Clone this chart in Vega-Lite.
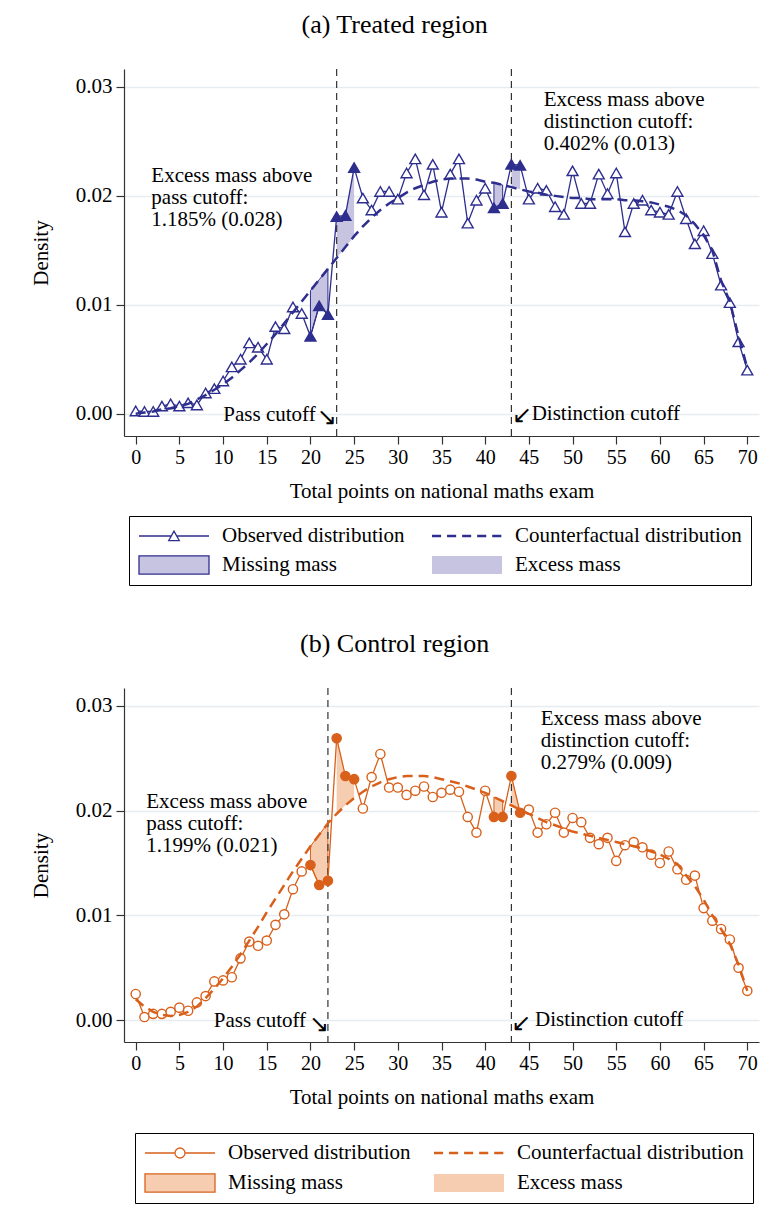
{
  "$schema": "https://vega.github.io/schema/vega-lite/v6.json",
  "padding": {"top": 12, "left": 30, "right": 8, "bottom": 8},
  "background": "white",
  "config": {
    "font": "Liberation Serif",
    "view": {"stroke": null},
    "title": {"font": "Liberation Serif", "fontSize": 26, "fontWeight": "normal", "color": "black", "anchor": "middle", "frame": "bounds", "baseline": "alphabetic", "offset": 30},
    "axis": {"labelFont": "Liberation Serif", "titleFont": "Liberation Serif", "labelColor": "black", "titleColor": "black", "titleFontWeight": "normal", "domainColor": "#333333", "tickColor": "#333333", "tickSize": 8, "domainWidth": 1.2, "tickWidth": 1.2, "gridColor": "#e7ecf0", "gridWidth": 1.3},
    "axisX": {"grid": false, "labelFontSize": 20, "titleFontSize": 21, "labelPadding": 3, "titlePadding": 13, "labelFlush": false},
    "axisY": {"grid": true, "labelFontSize": 21, "titleFontSize": 21, "labelPadding": 4, "titlePadding": 24}
  },
  "datasets": {
    "treated": [
      {"x": 0, "obs": 0.00025, "cf": 0.0000, "win": ""},
      {"x": 1, "obs": 0.0002, "cf": 0.0001, "win": ""},
      {"x": 2, "obs": 0.0002, "cf": 0.0002, "win": ""},
      {"x": 3, "obs": 0.0007, "cf": 0.0004, "win": ""},
      {"x": 4, "obs": 0.0009, "cf": 0.0005, "win": ""},
      {"x": 5, "obs": 0.0007, "cf": 0.0007, "win": ""},
      {"x": 6, "obs": 0.0010, "cf": 0.0009, "win": ""},
      {"x": 7, "obs": 0.0008, "cf": 0.0013, "win": ""},
      {"x": 8, "obs": 0.0019, "cf": 0.0017, "win": ""},
      {"x": 9, "obs": 0.0023, "cf": 0.0022, "win": ""},
      {"x": 10, "obs": 0.0030, "cf": 0.0027, "win": ""},
      {"x": 11, "obs": 0.0043, "cf": 0.0033, "win": ""},
      {"x": 12, "obs": 0.0050, "cf": 0.0040, "win": ""},
      {"x": 13, "obs": 0.0065, "cf": 0.0047, "win": ""},
      {"x": 14, "obs": 0.0061, "cf": 0.0055, "win": ""},
      {"x": 15, "obs": 0.0050, "cf": 0.0064, "win": ""},
      {"x": 16, "obs": 0.0080, "cf": 0.0073, "win": ""},
      {"x": 17, "obs": 0.0078, "cf": 0.0083, "win": ""},
      {"x": 18, "obs": 0.0098, "cf": 0.0093, "win": ""},
      {"x": 19, "obs": 0.0092, "cf": 0.0103, "win": ""},
      {"x": 20, "obs": 0.0071, "cf": 0.0113, "win": "pb"},
      {"x": 21, "obs": 0.0099, "cf": 0.0123, "win": "pb"},
      {"x": 22, "obs": 0.0091, "cf": 0.0133, "win": "pb"},
      {"x": 23, "obs": 0.0181, "cf": 0.0143, "win": "pa"},
      {"x": 24, "obs": 0.0182, "cf": 0.0153, "win": "pa"},
      {"x": 25, "obs": 0.0226, "cf": 0.0163, "win": "pa"},
      {"x": 26, "obs": 0.0198, "cf": 0.0172, "win": ""},
      {"x": 27, "obs": 0.0187, "cf": 0.0180, "win": ""},
      {"x": 28, "obs": 0.0204, "cf": 0.0187, "win": ""},
      {"x": 29, "obs": 0.0204, "cf": 0.0193, "win": ""},
      {"x": 30, "obs": 0.0197, "cf": 0.0198, "win": ""},
      {"x": 31, "obs": 0.0221, "cf": 0.0203, "win": ""},
      {"x": 32, "obs": 0.0234, "cf": 0.0207, "win": ""},
      {"x": 33, "obs": 0.0201, "cf": 0.0210, "win": ""},
      {"x": 34, "obs": 0.0229, "cf": 0.0213, "win": ""},
      {"x": 35, "obs": 0.0185, "cf": 0.0215, "win": ""},
      {"x": 36, "obs": 0.0220, "cf": 0.0216, "win": ""},
      {"x": 37, "obs": 0.0234, "cf": 0.0216, "win": ""},
      {"x": 38, "obs": 0.0175, "cf": 0.0216, "win": ""},
      {"x": 39, "obs": 0.0196, "cf": 0.0215, "win": ""},
      {"x": 40, "obs": 0.0207, "cf": 0.0213, "win": ""},
      {"x": 41, "obs": 0.0189, "cf": 0.0212, "win": "db"},
      {"x": 42, "obs": 0.0193, "cf": 0.0210, "win": "db"},
      {"x": 43, "obs": 0.0229, "cf": 0.0208, "win": "da"},
      {"x": 44, "obs": 0.0228, "cf": 0.0206, "win": "da"},
      {"x": 45, "obs": 0.0197, "cf": 0.0204, "win": ""},
      {"x": 46, "obs": 0.0207, "cf": 0.0203, "win": ""},
      {"x": 47, "obs": 0.0205, "cf": 0.0201, "win": ""},
      {"x": 48, "obs": 0.0190, "cf": 0.0200, "win": ""},
      {"x": 49, "obs": 0.0183, "cf": 0.0199, "win": ""},
      {"x": 50, "obs": 0.0223, "cf": 0.0198, "win": ""},
      {"x": 51, "obs": 0.0193, "cf": 0.0198, "win": ""},
      {"x": 52, "obs": 0.0193, "cf": 0.0197, "win": ""},
      {"x": 53, "obs": 0.0220, "cf": 0.0197, "win": ""},
      {"x": 54, "obs": 0.0202, "cf": 0.0197, "win": ""},
      {"x": 55, "obs": 0.0221, "cf": 0.0197, "win": ""},
      {"x": 56, "obs": 0.0167, "cf": 0.0196, "win": ""},
      {"x": 57, "obs": 0.0193, "cf": 0.0196, "win": ""},
      {"x": 58, "obs": 0.0196, "cf": 0.0195, "win": ""},
      {"x": 59, "obs": 0.0187, "cf": 0.0194, "win": ""},
      {"x": 60, "obs": 0.0185, "cf": 0.0192, "win": ""},
      {"x": 61, "obs": 0.0183, "cf": 0.0190, "win": ""},
      {"x": 62, "obs": 0.0204, "cf": 0.0187, "win": ""},
      {"x": 63, "obs": 0.0179, "cf": 0.0182, "win": ""},
      {"x": 64, "obs": 0.0156, "cf": 0.0174, "win": ""},
      {"x": 65, "obs": 0.0168, "cf": 0.0164, "win": ""},
      {"x": 66, "obs": 0.0147, "cf": 0.0150, "win": ""},
      {"x": 67, "obs": 0.0118, "cf": 0.0122, "win": ""},
      {"x": 68, "obs": 0.0102, "cf": 0.0103, "win": ""},
      {"x": 69, "obs": 0.0066, "cf": 0.0071, "win": ""},
      {"x": 70, "obs": 0.0040, "cf": 0.0042, "win": ""}
    ],
    "control": [
      {"x": 0, "obs": 0.0025, "cf": 0.0020, "win": ""},
      {"x": 1, "obs": 0.0003, "cf": 0.0013, "win": ""},
      {"x": 2, "obs": 0.0006, "cf": 0.0008, "win": ""},
      {"x": 3, "obs": 0.0006, "cf": 0.0005, "win": ""},
      {"x": 4, "obs": 0.0008, "cf": 0.0004, "win": ""},
      {"x": 5, "obs": 0.0012, "cf": 0.0005, "win": ""},
      {"x": 6, "obs": 0.0009, "cf": 0.0008, "win": ""},
      {"x": 7, "obs": 0.0017, "cf": 0.0013, "win": ""},
      {"x": 8, "obs": 0.0023, "cf": 0.0021, "win": ""},
      {"x": 9, "obs": 0.0037, "cf": 0.0030, "win": ""},
      {"x": 10, "obs": 0.0038, "cf": 0.0040, "win": ""},
      {"x": 11, "obs": 0.0041, "cf": 0.0051, "win": ""},
      {"x": 12, "obs": 0.0059, "cf": 0.0063, "win": ""},
      {"x": 13, "obs": 0.0075, "cf": 0.0076, "win": ""},
      {"x": 14, "obs": 0.0071, "cf": 0.0089, "win": ""},
      {"x": 15, "obs": 0.0076, "cf": 0.0103, "win": ""},
      {"x": 16, "obs": 0.0091, "cf": 0.0116, "win": ""},
      {"x": 17, "obs": 0.0101, "cf": 0.0129, "win": ""},
      {"x": 18, "obs": 0.0125, "cf": 0.0142, "win": ""},
      {"x": 19, "obs": 0.0142, "cf": 0.0154, "win": ""},
      {"x": 20, "obs": 0.0148, "cf": 0.0166, "win": "pb"},
      {"x": 21, "obs": 0.0129, "cf": 0.0177, "win": "pb"},
      {"x": 22, "obs": 0.0133, "cf": 0.0188, "win": "pb"},
      {"x": 23, "obs": 0.0269, "cf": 0.0197, "win": "pa"},
      {"x": 24, "obs": 0.0233, "cf": 0.0205, "win": "pa"},
      {"x": 25, "obs": 0.0230, "cf": 0.0212, "win": "pa"},
      {"x": 26, "obs": 0.0202, "cf": 0.0218, "win": ""},
      {"x": 27, "obs": 0.0232, "cf": 0.0223, "win": ""},
      {"x": 28, "obs": 0.0254, "cf": 0.0227, "win": ""},
      {"x": 29, "obs": 0.0222, "cf": 0.0230, "win": ""},
      {"x": 30, "obs": 0.0222, "cf": 0.0232, "win": ""},
      {"x": 31, "obs": 0.0215, "cf": 0.0233, "win": ""},
      {"x": 32, "obs": 0.0219, "cf": 0.0233, "win": ""},
      {"x": 33, "obs": 0.0223, "cf": 0.0233, "win": ""},
      {"x": 34, "obs": 0.0213, "cf": 0.0232, "win": ""},
      {"x": 35, "obs": 0.0217, "cf": 0.0230, "win": ""},
      {"x": 36, "obs": 0.0220, "cf": 0.0228, "win": ""},
      {"x": 37, "obs": 0.0218, "cf": 0.0226, "win": ""},
      {"x": 38, "obs": 0.0194, "cf": 0.0223, "win": ""},
      {"x": 39, "obs": 0.0179, "cf": 0.0220, "win": ""},
      {"x": 40, "obs": 0.0219, "cf": 0.0217, "win": ""},
      {"x": 41, "obs": 0.0194, "cf": 0.0213, "win": "db"},
      {"x": 42, "obs": 0.0194, "cf": 0.0209, "win": "db"},
      {"x": 43, "obs": 0.0233, "cf": 0.0205, "win": "da"},
      {"x": 44, "obs": 0.0198, "cf": 0.0201, "win": "da"},
      {"x": 45, "obs": 0.0201, "cf": 0.0197, "win": ""},
      {"x": 46, "obs": 0.0179, "cf": 0.0193, "win": ""},
      {"x": 47, "obs": 0.0187, "cf": 0.0189, "win": ""},
      {"x": 48, "obs": 0.0198, "cf": 0.0186, "win": ""},
      {"x": 49, "obs": 0.0179, "cf": 0.0183, "win": ""},
      {"x": 50, "obs": 0.0193, "cf": 0.0180, "win": ""},
      {"x": 51, "obs": 0.0189, "cf": 0.0178, "win": ""},
      {"x": 52, "obs": 0.0174, "cf": 0.0176, "win": ""},
      {"x": 53, "obs": 0.0168, "cf": 0.0174, "win": ""},
      {"x": 54, "obs": 0.0174, "cf": 0.0172, "win": ""},
      {"x": 55, "obs": 0.0152, "cf": 0.0170, "win": ""},
      {"x": 56, "obs": 0.0167, "cf": 0.0168, "win": ""},
      {"x": 57, "obs": 0.0170, "cf": 0.0166, "win": ""},
      {"x": 58, "obs": 0.0165, "cf": 0.0164, "win": ""},
      {"x": 59, "obs": 0.0158, "cf": 0.0161, "win": ""},
      {"x": 60, "obs": 0.0150, "cf": 0.0158, "win": ""},
      {"x": 61, "obs": 0.0161, "cf": 0.0154, "win": ""},
      {"x": 62, "obs": 0.0144, "cf": 0.0149, "win": ""},
      {"x": 63, "obs": 0.0134, "cf": 0.0138, "win": ""},
      {"x": 64, "obs": 0.0138, "cf": 0.0128, "win": ""},
      {"x": 65, "obs": 0.0107, "cf": 0.0115, "win": ""},
      {"x": 66, "obs": 0.0095, "cf": 0.0100, "win": ""},
      {"x": 67, "obs": 0.0087, "cf": 0.0087, "win": ""},
      {"x": 68, "obs": 0.0077, "cf": 0.0073, "win": ""},
      {"x": 69, "obs": 0.0050, "cf": 0.0053, "win": ""},
      {"x": 70, "obs": 0.0028, "cf": 0.0028, "win": ""}
    ],
    "keys": [
      {"item": "Observed distribution"},
      {"item": "Counterfactual distribution"},
      {"item": "Missing mass"},
      {"item": "Excess mass"}
    ]
  },
  "resolve": {
    "scale": {"x": "independent", "y": "independent", "shape": "independent", "fill": "independent", "stroke": "independent"},
    "legend": {"shape": "independent", "fill": "independent", "stroke": "independent"}
  },
  "spacing": 45,
  "vconcat": [
    {
      "title": "(a) Treated region",
      "width": 635,
      "height": 367,
      "data": {"name": "treated"},
      "layer": [
        {
          "transform": [{"filter": "datum.win == 'pb' || datum.win == 'db'"}],
          "mark": {"type": "area", "fill": "#c6c4e1", "stroke": "#2e2e8e", "strokeWidth": 1, "opacity": 1},
          "encoding": {
            "x": {"field": "x", "type": "quantitative", "scale": {"domain": [-1.34, 71.34], "nice": false, "zero": false}, "title": "Total points on national maths exam", "axis": {"values": [0, 5, 10, 15, 20, 25, 30, 35, 40, 45, 50, 55, 60, 65, 70]}},
            "y": {"field": "obs", "type": "quantitative", "scale": {"domain": [-0.00205, 0.03165], "nice": false, "zero": false}, "title": "Density", "axis": {"values": [0, 0.01, 0.02, 0.03], "format": ".2f"}},
            "y2": {"field": "cf"},
            "detail": {"field": "win"}
          }
        },
        {
          "transform": [{"filter": "datum.win == 'pa' || datum.win == 'da'"}],
          "mark": {"type": "area", "fill": "#c6c4e1", "opacity": 1},
          "encoding": {
            "x": {"field": "x", "type": "quantitative", "scale": {"domain": [-1.34, 71.34], "nice": false, "zero": false}, "title": "Total points on national maths exam"},
            "y": {"field": "obs", "type": "quantitative", "scale": {"domain": [-0.00205, 0.03165], "nice": false, "zero": false}, "title": "Density"},
            "y2": {"field": "cf"},
            "detail": {"field": "win"}
          }
        },
        {
          "data": {"values": [{"cutoff": 23}, {"cutoff": 43}]},
          "mark": {"type": "rule", "color": "#333333", "strokeWidth": 1.2, "strokeDash": [7, 5]},
          "encoding": {
            "x": {"field": "cutoff", "type": "quantitative", "scale": {"domain": [-1.34, 71.34], "nice": false, "zero": false}, "title": "Total points on national maths exam"}
          }
        },
        {
          "mark": {"type": "line", "color": "#2e2e8e", "strokeWidth": 1.3},
          "encoding": {
            "x": {"field": "x", "type": "quantitative", "scale": {"domain": [-1.34, 71.34], "nice": false, "zero": false}, "title": "Total points on national maths exam"},
            "y": {"field": "obs", "type": "quantitative", "scale": {"domain": [-0.00205, 0.03165], "nice": false, "zero": false}, "title": "Density"}
          }
        },
        {
          "transform": [{"filter": "datum.win == ''"}],
          "mark": {"type": "point", "shape": "triangle-up", "filled": true, "fill": "white", "stroke": "#2e2e8e", "strokeWidth": 1.4, "size": 120, "opacity": 1},
          "encoding": {
            "x": {"field": "x", "type": "quantitative", "scale": {"domain": [-1.34, 71.34], "nice": false, "zero": false}, "title": "Total points on national maths exam"},
            "y": {"field": "obs", "type": "quantitative", "scale": {"domain": [-0.00205, 0.03165], "nice": false, "zero": false}, "title": "Density"}
          }
        },
        {
          "transform": [{"filter": "datum.win != ''"}],
          "mark": {"type": "point", "shape": "triangle-up", "filled": true, "fill": "#2e2e8e", "stroke": "#2e2e8e", "strokeWidth": 1.4, "size": 120, "opacity": 1},
          "encoding": {
            "x": {"field": "x", "type": "quantitative", "scale": {"domain": [-1.34, 71.34], "nice": false, "zero": false}, "title": "Total points on national maths exam"},
            "y": {"field": "obs", "type": "quantitative", "scale": {"domain": [-0.00205, 0.03165], "nice": false, "zero": false}, "title": "Density"}
          }
        },
        {
          "mark": {"type": "line", "color": "#2e2e8e", "strokeWidth": 2.5, "strokeDash": [10, 6]},
          "encoding": {
            "x": {"field": "x", "type": "quantitative", "scale": {"domain": [-1.34, 71.34], "nice": false, "zero": false}, "title": "Total points on national maths exam"},
            "y": {"field": "cf", "type": "quantitative", "scale": {"domain": [-0.00205, 0.03165], "nice": false, "zero": false}, "title": "Density"}
          }
        },
        {
          "data": {"values": [{}]},
          "mark": {"type": "text", "text": ["Excess mass above", "pass cutoff:", "1.185% (0.028)"], "align": "left", "baseline": "alphabetic", "fontSize": 21, "lineHeight": 22, "font": "Liberation Serif", "color": "black"},
          "encoding": {
            "x": {"datum": 1.79, "type": "quantitative", "scale": {"domain": [-1.34, 71.34], "nice": false, "zero": false}, "title": "Total points on national maths exam"},
            "y": {"datum": 0.0213, "type": "quantitative", "scale": {"domain": [-0.00205, 0.03165], "nice": false, "zero": false}, "title": "Density"}
          }
        },
        {
          "data": {"values": [{}]},
          "mark": {"type": "text", "text": ["Excess mass above", "distinction cutoff:", "0.402% (0.013)"], "align": "left", "baseline": "alphabetic", "fontSize": 21, "lineHeight": 22, "font": "Liberation Serif", "color": "black"},
          "encoding": {
            "x": {"datum": 46.7, "type": "quantitative", "scale": {"domain": [-1.34, 71.34], "nice": false, "zero": false}, "title": "Total points on national maths exam"},
            "y": {"datum": 0.02822, "type": "quantitative", "scale": {"domain": [-0.00205, 0.03165], "nice": false, "zero": false}, "title": "Density"}
          }
        },
        {
          "data": {"values": [{}]},
          "mark": {"type": "text", "text": "Pass cutoff", "align": "right", "baseline": "alphabetic", "fontSize": 21, "font": "Liberation Serif", "color": "black"},
          "encoding": {
            "x": {"datum": 20.6, "type": "quantitative", "scale": {"domain": [-1.34, 71.34], "nice": false, "zero": false}, "title": "Total points on national maths exam"},
            "y": {"datum": -0.00067, "type": "quantitative", "scale": {"domain": [-0.00205, 0.03165], "nice": false, "zero": false}, "title": "Density"}
          }
        },
        {
          "data": {"values": [{}]},
          "mark": {"type": "text", "text": "↘", "align": "center", "baseline": "middle", "fontSize": 24, "font": "DejaVu Sans", "color": "black"},
          "encoding": {
            "x": {"datum": 21.86, "type": "quantitative", "scale": {"domain": [-1.34, 71.34], "nice": false, "zero": false}, "title": "Total points on national maths exam"},
            "y": {"datum": -0.00044, "type": "quantitative", "scale": {"domain": [-0.00205, 0.03165], "nice": false, "zero": false}, "title": "Density"}
          }
        },
        {
          "data": {"values": [{}]},
          "mark": {"type": "text", "text": "Distinction cutoff", "align": "left", "baseline": "alphabetic", "fontSize": 21, "font": "Liberation Serif", "color": "black"},
          "encoding": {
            "x": {"datum": 45.32, "type": "quantitative", "scale": {"domain": [-1.34, 71.34], "nice": false, "zero": false}, "title": "Total points on national maths exam"},
            "y": {"datum": -0.00061, "type": "quantitative", "scale": {"domain": [-0.00205, 0.03165], "nice": false, "zero": false}, "title": "Density"}
          }
        },
        {
          "data": {"values": [{}]},
          "mark": {"type": "text", "text": "↙", "align": "center", "baseline": "middle", "fontSize": 24, "font": "DejaVu Sans", "color": "black"},
          "encoding": {
            "x": {"datum": 44.25, "type": "quantitative", "scale": {"domain": [-1.34, 71.34], "nice": false, "zero": false}, "title": "Total points on national maths exam"},
            "y": {"datum": -0.00018, "type": "quantitative", "scale": {"domain": [-0.00205, 0.03165], "nice": false, "zero": false}, "title": "Density"}
          }
        },
        {
          "data": {"name": "keys"},
          "mark": {"type": "point", "filled": true, "opacity": 0, "size": 4900},
          "encoding": {
            "shape": {"field": "item", "type": "nominal",
              "scale": {"domain": ["Observed distribution", "Counterfactual distribution", "Missing mass", "Excess mass"],
                "range": ["M-1,0H-0.073M0.073,0H1M-0.15,0.13L0,-0.14L0.15,0.13Z", "M-1,-0.036H-0.74V0.036H-1ZM-0.57,-0.036H-0.31V0.036H-0.57ZM-0.14,-0.036H0.12V0.036H-0.14ZM0.29,-0.036H0.55V0.036H0.29ZM0.72,-0.036H0.98V0.036H0.72Z", "M-1,-0.26H1V0.26H-1Z", "M-1,-0.26H1V0.26H-1Z"]},
              "legend": {"title": null, "orient": "none", "legendX": 5, "legendY": 447, "columns": 2, "direction": "horizontal", "symbolSize": 4900, "clipHeight": 22, "labelFont": "Liberation Serif", "labelFontSize": 21, "labelColor": "black", "labelOffset": 12, "columnPadding": 26, "rowPadding": 7, "padding": 9, "strokeColor": "black", "symbolStrokeWidth": 1.3, "labelLimit": 400, "symbolOpacity": 1}},
            "fill": {"field": "item", "type": "nominal",
              "scale": {"domain": ["Observed distribution", "Counterfactual distribution", "Missing mass", "Excess mass"], "range": ["white", "#2e2e8e", "#c6c4e1", "#c6c4e1"]},
              "legend": {"title": null, "orient": "none", "legendX": 5, "legendY": 447, "columns": 2, "direction": "horizontal", "symbolSize": 4900, "clipHeight": 22, "labelFont": "Liberation Serif", "labelFontSize": 21, "labelColor": "black", "labelOffset": 12, "columnPadding": 26, "rowPadding": 7, "padding": 9, "strokeColor": "black", "symbolStrokeWidth": 1.3, "labelLimit": 400, "symbolOpacity": 1}},
            "stroke": {"field": "item", "type": "nominal",
              "scale": {"domain": ["Observed distribution", "Counterfactual distribution", "Missing mass", "Excess mass"], "range": ["#2e2e8e", "transparent", "#2e2e8e", "transparent"]},
              "legend": {"title": null, "orient": "none", "legendX": 5, "legendY": 447, "columns": 2, "direction": "horizontal", "symbolSize": 4900, "clipHeight": 22, "labelFont": "Liberation Serif", "labelFontSize": 21, "labelColor": "black", "labelOffset": 12, "columnPadding": 26, "rowPadding": 7, "padding": 9, "strokeColor": "black", "symbolStrokeWidth": 1.3, "labelLimit": 400, "symbolOpacity": 1}}
          }
        }
      ]
    },
    {
      "title": "(b) Control region",
      "width": 635,
      "height": 354,
      "data": {"name": "control"},
      "layer": [
        {
          "transform": [{"filter": "datum.win == 'pb' || datum.win == 'db'"}],
          "mark": {"type": "area", "fill": "#f6cdb0", "stroke": "#d8601b", "strokeWidth": 1, "opacity": 1},
          "encoding": {
            "x": {"field": "x", "type": "quantitative", "scale": {"domain": [-1.34, 71.34], "nice": false, "zero": false}, "title": "Total points on national maths exam", "axis": {"values": [0, 5, 10, 15, 20, 25, 30, 35, 40, 45, 50, 55, 60, 65, 70]}},
            "y": {"field": "obs", "type": "quantitative", "scale": {"domain": [-0.00208, 0.0317], "nice": false, "zero": false}, "title": "Density", "axis": {"values": [0, 0.01, 0.02, 0.03], "format": ".2f"}},
            "y2": {"field": "cf"},
            "detail": {"field": "win"}
          }
        },
        {
          "transform": [{"filter": "datum.win == 'pa' || datum.win == 'da'"}],
          "mark": {"type": "area", "fill": "#f6cdb0", "opacity": 1},
          "encoding": {
            "x": {"field": "x", "type": "quantitative", "scale": {"domain": [-1.34, 71.34], "nice": false, "zero": false}, "title": "Total points on national maths exam"},
            "y": {"field": "obs", "type": "quantitative", "scale": {"domain": [-0.00208, 0.0317], "nice": false, "zero": false}, "title": "Density"},
            "y2": {"field": "cf"},
            "detail": {"field": "win"}
          }
        },
        {
          "data": {"values": [{"cutoff": 22}, {"cutoff": 43}]},
          "mark": {"type": "rule", "color": "#333333", "strokeWidth": 1.2, "strokeDash": [7, 5]},
          "encoding": {
            "x": {"field": "cutoff", "type": "quantitative", "scale": {"domain": [-1.34, 71.34], "nice": false, "zero": false}, "title": "Total points on national maths exam"}
          }
        },
        {
          "mark": {"type": "line", "color": "#d8601b", "strokeWidth": 1.3},
          "encoding": {
            "x": {"field": "x", "type": "quantitative", "scale": {"domain": [-1.34, 71.34], "nice": false, "zero": false}, "title": "Total points on national maths exam"},
            "y": {"field": "obs", "type": "quantitative", "scale": {"domain": [-0.00208, 0.0317], "nice": false, "zero": false}, "title": "Density"}
          }
        },
        {
          "transform": [{"filter": "datum.win == ''"}],
          "mark": {"type": "point", "shape": "circle", "filled": true, "fill": "white", "stroke": "#d8601b", "strokeWidth": 1.4, "size": 85, "opacity": 1},
          "encoding": {
            "x": {"field": "x", "type": "quantitative", "scale": {"domain": [-1.34, 71.34], "nice": false, "zero": false}, "title": "Total points on national maths exam"},
            "y": {"field": "obs", "type": "quantitative", "scale": {"domain": [-0.00208, 0.0317], "nice": false, "zero": false}, "title": "Density"}
          }
        },
        {
          "transform": [{"filter": "datum.win != ''"}],
          "mark": {"type": "point", "shape": "circle", "filled": true, "fill": "#d8601b", "stroke": "#d8601b", "strokeWidth": 1.4, "size": 85, "opacity": 1},
          "encoding": {
            "x": {"field": "x", "type": "quantitative", "scale": {"domain": [-1.34, 71.34], "nice": false, "zero": false}, "title": "Total points on national maths exam"},
            "y": {"field": "obs", "type": "quantitative", "scale": {"domain": [-0.00208, 0.0317], "nice": false, "zero": false}, "title": "Density"}
          }
        },
        {
          "mark": {"type": "line", "color": "#d8601b", "strokeWidth": 2.5, "strokeDash": [10, 6]},
          "encoding": {
            "x": {"field": "x", "type": "quantitative", "scale": {"domain": [-1.34, 71.34], "nice": false, "zero": false}, "title": "Total points on national maths exam"},
            "y": {"field": "cf", "type": "quantitative", "scale": {"domain": [-0.00208, 0.0317], "nice": false, "zero": false}, "title": "Density"}
          }
        },
        {
          "data": {"values": [{}]},
          "mark": {"type": "text", "text": ["Excess mass above", "pass cutoff:", "1.199% (0.021)"], "align": "left", "baseline": "alphabetic", "fontSize": 21, "lineHeight": 22, "font": "Liberation Serif", "color": "black"},
          "encoding": {
            "x": {"datum": 1.21, "type": "quantitative", "scale": {"domain": [-1.34, 71.34], "nice": false, "zero": false}, "title": "Total points on national maths exam"},
            "y": {"datum": 0.02029, "type": "quantitative", "scale": {"domain": [-0.00208, 0.0317], "nice": false, "zero": false}, "title": "Density"}
          }
        },
        {
          "data": {"values": [{}]},
          "mark": {"type": "text", "text": ["Excess mass above", "distinction cutoff:", "0.279% (0.009)"], "align": "left", "baseline": "alphabetic", "fontSize": 21, "lineHeight": 22, "font": "Liberation Serif", "color": "black"},
          "encoding": {
            "x": {"datum": 46.35, "type": "quantitative", "scale": {"domain": [-1.34, 71.34], "nice": false, "zero": false}, "title": "Total points on national maths exam"},
            "y": {"datum": 0.02816, "type": "quantitative", "scale": {"domain": [-0.00208, 0.0317], "nice": false, "zero": false}, "title": "Density"}
          }
        },
        {
          "data": {"values": [{}]},
          "mark": {"type": "text", "text": "Pass cutoff", "align": "right", "baseline": "alphabetic", "fontSize": 21, "font": "Liberation Serif", "color": "black"},
          "encoding": {
            "x": {"datum": 19.5, "type": "quantitative", "scale": {"domain": [-1.34, 71.34], "nice": false, "zero": false}, "title": "Total points on national maths exam"},
            "y": {"datum": -0.00064, "type": "quantitative", "scale": {"domain": [-0.00208, 0.0317], "nice": false, "zero": false}, "title": "Density"}
          }
        },
        {
          "data": {"values": [{}]},
          "mark": {"type": "text", "text": "↘", "align": "center", "baseline": "middle", "fontSize": 24, "font": "DejaVu Sans", "color": "black"},
          "encoding": {
            "x": {"datum": 20.98, "type": "quantitative", "scale": {"domain": [-1.34, 71.34], "nice": false, "zero": false}, "title": "Total points on national maths exam"},
            "y": {"datum": -0.00045, "type": "quantitative", "scale": {"domain": [-0.00208, 0.0317], "nice": false, "zero": false}, "title": "Density"}
          }
        },
        {
          "data": {"values": [{}]},
          "mark": {"type": "text", "text": "Distinction cutoff", "align": "left", "baseline": "alphabetic", "fontSize": 21, "font": "Liberation Serif", "color": "black"},
          "encoding": {
            "x": {"datum": 45.7, "type": "quantitative", "scale": {"domain": [-1.34, 71.34], "nice": false, "zero": false}, "title": "Total points on national maths exam"},
            "y": {"datum": -0.00055, "type": "quantitative", "scale": {"domain": [-0.00208, 0.0317], "nice": false, "zero": false}, "title": "Density"}
          }
        },
        {
          "data": {"values": [{}]},
          "mark": {"type": "text", "text": "↙", "align": "center", "baseline": "middle", "fontSize": 24, "font": "DejaVu Sans", "color": "black"},
          "encoding": {
            "x": {"datum": 44.16, "type": "quantitative", "scale": {"domain": [-1.34, 71.34], "nice": false, "zero": false}, "title": "Total points on national maths exam"},
            "y": {"datum": -0.00037, "type": "quantitative", "scale": {"domain": [-0.00208, 0.0317], "nice": false, "zero": false}, "title": "Density"}
          }
        },
        {
          "data": {"name": "keys"},
          "mark": {"type": "point", "filled": true, "opacity": 0, "size": 4900},
          "encoding": {
            "shape": {"field": "item", "type": "nominal",
              "scale": {"domain": ["Observed distribution", "Counterfactual distribution", "Missing mass", "Excess mass"],
                "range": ["M-1,0H-0.143M0.143,0H1M-0.143,0A0.143,0.143,0,1,0,0.143,0A0.143,0.143,0,1,0,-0.143,0Z", "M-1,-0.036H-0.74V0.036H-1ZM-0.57,-0.036H-0.31V0.036H-0.57ZM-0.14,-0.036H0.12V0.036H-0.14ZM0.29,-0.036H0.55V0.036H0.29ZM0.72,-0.036H0.98V0.036H0.72Z", "M-1,-0.26H1V0.26H-1Z", "M-1,-0.26H1V0.26H-1Z"]},
              "legend": {"title": null, "orient": "none", "legendX": 11, "legendY": 445, "columns": 2, "direction": "horizontal", "symbolSize": 4900, "clipHeight": 22, "labelFont": "Liberation Serif", "labelFontSize": 21, "labelColor": "black", "labelOffset": 12, "columnPadding": 22, "rowPadding": 8, "padding": 9, "strokeColor": "black", "symbolStrokeWidth": 1.3, "labelLimit": 400, "symbolOpacity": 1}},
            "fill": {"field": "item", "type": "nominal",
              "scale": {"domain": ["Observed distribution", "Counterfactual distribution", "Missing mass", "Excess mass"], "range": ["white", "#d8601b", "#f6cdb0", "#f6cdb0"]},
              "legend": {"title": null, "orient": "none", "legendX": 11, "legendY": 445, "columns": 2, "direction": "horizontal", "symbolSize": 4900, "clipHeight": 22, "labelFont": "Liberation Serif", "labelFontSize": 21, "labelColor": "black", "labelOffset": 12, "columnPadding": 22, "rowPadding": 8, "padding": 9, "strokeColor": "black", "symbolStrokeWidth": 1.3, "labelLimit": 400, "symbolOpacity": 1}},
            "stroke": {"field": "item", "type": "nominal",
              "scale": {"domain": ["Observed distribution", "Counterfactual distribution", "Missing mass", "Excess mass"], "range": ["#d8601b", "transparent", "#d8601b", "transparent"]},
              "legend": {"title": null, "orient": "none", "legendX": 11, "legendY": 445, "columns": 2, "direction": "horizontal", "symbolSize": 4900, "clipHeight": 22, "labelFont": "Liberation Serif", "labelFontSize": 21, "labelColor": "black", "labelOffset": 12, "columnPadding": 22, "rowPadding": 8, "padding": 9, "strokeColor": "black", "symbolStrokeWidth": 1.3, "labelLimit": 400, "symbolOpacity": 1}}
          }
        }
      ]
    }
  ]
}
